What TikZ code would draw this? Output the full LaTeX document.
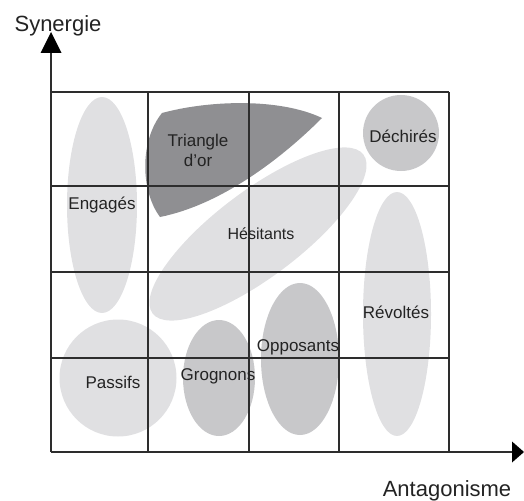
\documentclass[tikz,border=0pt]{standalone}
\usepackage{fontspec}
\setmainfont{Liberation Sans}
\definecolor{lightg}{RGB}{224,224,226}
\definecolor{midg}{RGB}{200,200,202}
\definecolor{darkg}{RGB}{143,143,146}
\definecolor{linec}{RGB}{45,45,45}
\definecolor{txt}{RGB}{35,35,35}
\begin{document}
\begin{tikzpicture}[x=1pt,y=-1pt,
  gridline/.style={draw=linec,line width=1.1pt},
  axisline/.style={draw=linec,line width=1.3pt},
  tip/.style={fill=black},
  lbl/.style={anchor=base,inner sep=0pt,text=txt,font=\fontsize{17}{20}\selectfont},
  axlbl/.style={anchor=base,inner sep=0pt,text=txt,font=\fontsize{22}{26}\selectfont}]
\useasboundingbox (0,0) rectangle (524,500);
% shapes
\fill[lightg] (102,205) ellipse [x radius=35, y radius=108];
\fill[lightg] (118,378) circle [radius=58.5];
\fill[lightg] (397,314) ellipse [x radius=34, y radius=122];
\fill[lightg, rotate around={37:(258,234)}] (258,234) ellipse [x radius=132, y radius=43];
\fill[midg] (219,378) ellipse [x radius=36, y radius=58];
\fill[midg] (300,359) ellipse [x radius=39, y radius=76];
\fill[midg] (401,133) circle [radius=38];
\fill[darkg] (162,113) .. controls (210,100) and (280,98) .. (322,118)
  .. controls (280,160) and (220,205) .. (160,217)
  .. controls (140,190) and (140,140) .. (162,113) -- cycle;
% grid
\foreach \x in {148,249,339,449} \draw[gridline] (\x,92) -- (\x,452);
\foreach \y in {92,186,272,358} \draw[gridline] (51,\y) -- (449,\y);
% axes
\coordinate (o) at (51,452);
\coordinate (ytop) at (51,50);
\coordinate (xend) at (514,452);
\draw[axisline] (o) -- (ytop);
\draw[axisline] (o) -- (xend);
\fill[tip] (51,32) -- (40.5,53) -- (61.5,53) -- cycle;
\fill[tip] (524,452) -- (512,441.5) -- (512,462.5) -- cycle;
% labels
\node[axlbl] (syn) at (58,32) {Synergie};
\node[axlbl] (ant) at (447,496) {Antagonisme};
\node[lbl] (tri1) at (198,146) {Triangle};
\node[lbl] (tri2) at (198,166) {d'or};
\node[lbl] (dec) at (403,142) {Déchirés};
\node[lbl] (eng) at (102,209) {Engagés};
\node[lbl,font=\fontsize{16}{20}\selectfont] (hes) at (261,239) {Hésitants};
\node[lbl] (rev) at (396,318) {Révoltés};
\node[lbl] (opp) at (298,351) {Opposants};
\node[lbl] (gro) at (218,380) {Grognons};
\node[lbl] (pas) at (113,388) {Passifs};
\end{tikzpicture}
\end{document}
